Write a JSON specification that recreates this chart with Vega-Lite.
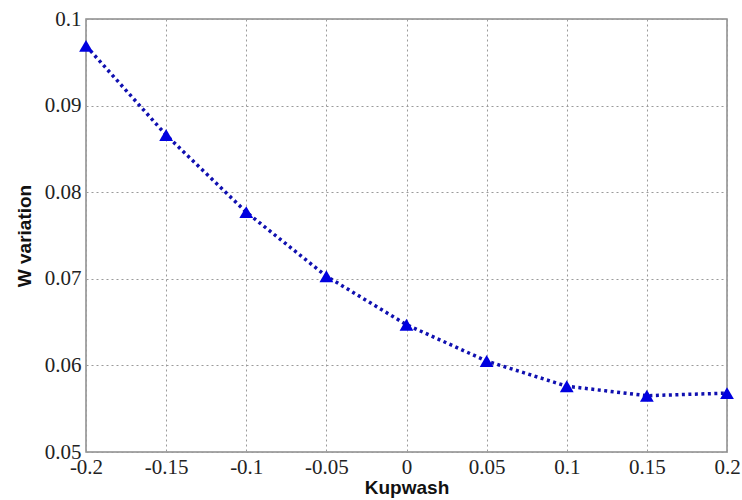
{
  "$schema": "https://vega.github.io/schema/vega-lite/v6.json",
  "width": 641,
  "height": 433,
  "autosize": {"type": "none"},
  "padding": {"left": 86, "top": 19, "right": 15, "bottom": 48},
  "background": "white",
  "config": {
    "view": {"stroke": "#8a8a8a", "strokeWidth": 1.5},
    "axis": {
      "labelFont": "Liberation Serif",
      "labelFontSize": 21,
      "labelColor": "#222222",
      "titleFont": "Liberation Sans",
      "titleFontSize": 19,
      "titleFontWeight": "bold",
      "titleColor": "#111111",
      "domain": false,
      "ticks": false,
      "grid": true,
      "gridColor": "#9a9a9a",
      "gridDash": [2, 3],
      "gridWidth": 1,
      "gridOpacity": 1
    }
  },
  "data": {
    "values": [
      {"Kupwash": -0.2, "W": 0.0969},
      {"Kupwash": -0.15, "W": 0.0866},
      {"Kupwash": -0.1, "W": 0.0777},
      {"Kupwash": -0.05, "W": 0.0703},
      {"Kupwash": 0.0, "W": 0.0647},
      {"Kupwash": 0.05, "W": 0.0605},
      {"Kupwash": 0.1, "W": 0.0576},
      {"Kupwash": 0.15, "W": 0.0565},
      {"Kupwash": 0.2, "W": 0.0568}
    ]
  },
  "encoding": {
    "x": {
      "field": "Kupwash",
      "type": "quantitative",
      "scale": {"domain": [-0.2, 0.2], "nice": false, "zero": false},
      "axis": {
        "title": "Kupwash",
        "values": [-0.2, -0.15, -0.1, -0.05, 0, 0.05, 0.1, 0.15, 0.2],
        "labelExpr": "replace(format(datum.value, '~g'), '−', '-')",
        "labelPadding": 4,
        "titlePadding": 1,
        "labelFlush": false,
        "labelOverlap": false
      }
    },
    "y": {
      "field": "W",
      "type": "quantitative",
      "scale": {"domain": [0.05, 0.1], "nice": false, "zero": false},
      "axis": {
        "title": "W variation",
        "values": [0.05, 0.06, 0.07, 0.08, 0.09, 0.1],
        "labelExpr": "format(datum.value, '~g')",
        "labelPadding": 5,
        "titlePadding": 10,
        "labelFlush": false,
        "labelOverlap": false
      }
    }
  },
  "layer": [
    {
      "mark": {"type": "line", "color": "#1010b0", "strokeWidth": 3.5, "strokeDash": [3, 3.5], "strokeCap": "butt"}
    },
    {
      "mark": {"type": "point", "shape": "triangle-up", "filled": true, "color": "#0000e0", "size": 190, "opacity": 1}
    }
  ]
}
